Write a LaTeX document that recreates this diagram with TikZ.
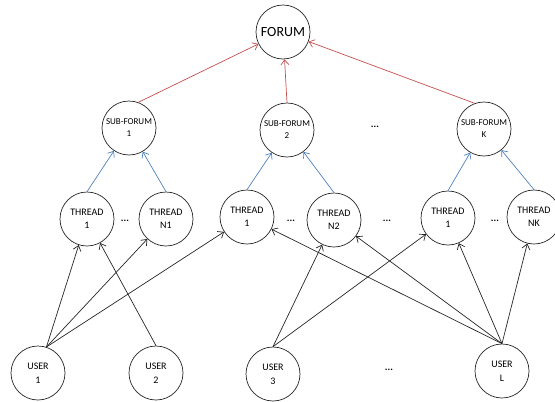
\documentclass[tikz,border=0pt]{standalone}
\usepackage{fontspec}
\setmainfont{Carlito}
\usetikzlibrary{arrows.meta}
\definecolor{linkred}{RGB}{192,80,77}
\definecolor{linkblue}{RGB}{79,129,189}
\tikzset{
  vtx/.style={circle, draw=black!85, line width=0.7pt, minimum size=54pt, inner sep=0pt, align=center},
  toplbl/.style={vtx, font=\fontsize{14}{16}\selectfont},
  sublbl/.style={vtx, font=\fontsize{9}{12}\selectfont},
  midlbl/.style={vtx, font=\fontsize{10}{13}\selectfont},
  lowlbl/.style={vtx, font=\fontsize{10}{14}\selectfont},
  gap/.style={font=\fontsize{10}{12}\selectfont\bfseries, inner sep=0pt},
  link/.style={-{Straight Barb[length=5pt,width=8pt]}, line width=0.7pt},
  redlink/.style={link, draw=linkred},
  bluelink/.style={link, draw=linkblue},
  blacklink/.style={link, draw=black!85}
}
\begin{document}
\begin{tikzpicture}[x=1pt, y=-1pt]
\useasboundingbox (0,0) rectangle (555,402);

% top level
\node[toplbl] (forum) at (283,32) {FORUM};

% sub-forums
\node[sublbl] (sf1) at (129,128) {SUB-FORUM\\1};
\node[sublbl] (sf2) at (287,130) {SUB-FORUM\\2};
\node[sublbl] (sfk) at (484,129) {SUB-FORUM\\K};
\node[gap] (d1) at (375,127) {...};

% threads
\node[midlbl] (t1a) at (87,219) {THREAD\\1};
\node[midlbl] (tn1) at (166,219) {THREAD\\N1};
\node[midlbl] (t1b) at (247,217) {THREAD\\1};
\node[midlbl] (tn2) at (334,220) {THREAD\\N2};
\node[midlbl] (t1c) at (448,218) {THREAD\\1};
\node[midlbl] (tnk) at (534,217) {THREAD\\NK};
\node[gap] (d2) at (125,221) {...};
\node[gap] (d3) at (291,221) {...};
\node[gap] (d4) at (387,221) {...};
\node[gap] (d5) at (495,221) {...};

% users
\node[lowlbl] (u1) at (38,373) {USER\\1};
\node[lowlbl] (u2) at (156,373) {USER\\2};
\node[lowlbl] (u3) at (273,374) {USER\\3};
\node[lowlbl] (ul) at (502,371) {USER\\L};
\node[gap] (d6) at (389,370) {...};

% sub-forums to forum
\draw[redlink] (sf1.70) -- (forum);
\draw[redlink] (sf2.north) -- (forum);
\draw[redlink] (sfk.110) -- (forum);

% threads to sub-forums
\draw[bluelink] (t1a.north) -- (sf1);
\draw[bluelink] (tn1.north) -- (sf1);
\draw[bluelink] (t1b.north) -- (sf2);
\draw[bluelink] (tn2.north) -- (sf2);
\draw[bluelink] (t1c.north) -- (sfk);
\draw[bluelink] (tnk.north) -- (sfk);

% users to threads
\draw[blacklink] (u1.72) -- (t1a);
\draw[blacklink] (u1.72) -- (tn1);
\draw[blacklink] (u1.72) -- (t1b);
\draw[blacklink] (u2.north) -- (t1a);
\draw[blacklink] (u3.north) -- (tn2);
\draw[blacklink] (u3.north) -- (t1c);
\draw[blacklink] (ul.north) -- (t1b);
\draw[blacklink] (ul.north) -- (tn2);
\draw[blacklink] (ul.north) -- (t1c);
\draw[blacklink] (ul.north) -- (tnk);
\end{tikzpicture}
\end{document}
